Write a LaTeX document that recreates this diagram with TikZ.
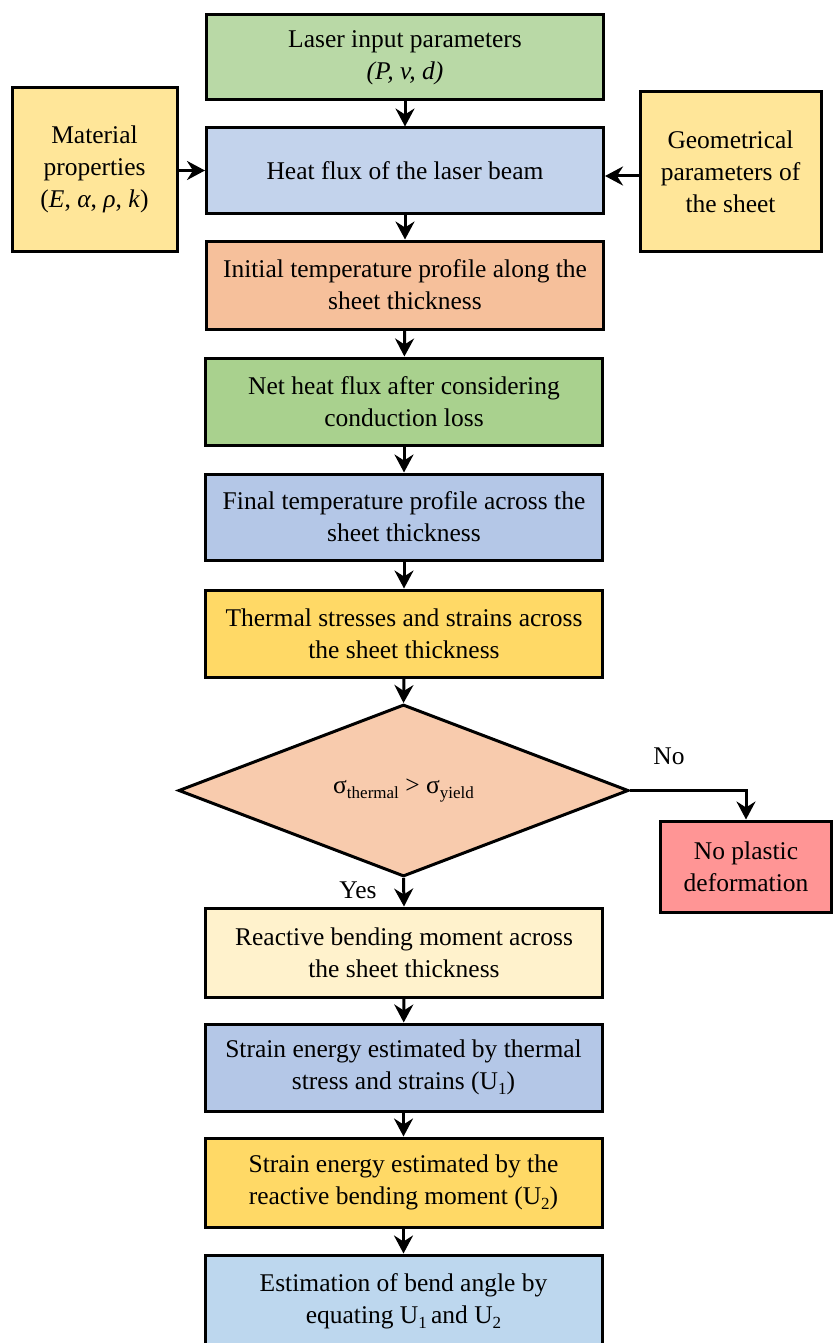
\documentclass[tikz,border=0pt]{standalone}
\usepackage{fontspec}
\setmainfont{Liberation Serif}
\usetikzlibrary{arrows.meta,shapes.geometric}
\definecolor{cgreenA}{HTML}{B9D9A6}
\definecolor{cblueA}{HTML}{C3D3EC}
\definecolor{cyel}{HTML}{FFE699}
\definecolor{corange}{HTML}{F6C09B}
\definecolor{cgreenB}{HTML}{A9D18E}
\definecolor{cblueB}{HTML}{B4C7E7}
\definecolor{cgold}{HTML}{FFD966}
\definecolor{cpeach}{HTML}{F8CBAD}
\definecolor{cred}{HTML}{FF9595}
\definecolor{ccream}{HTML}{FFF2CC}
\definecolor{cblueC}{HTML}{BDD7EE}
\tikzset{
  txt/.style={font=\fontsize{25.5}{32}\selectfont},
  box/.style={txt, draw=black, line width=3pt, rectangle, align=center,
    minimum width=397pt, inner sep=0pt},
  sidebox/.style={txt, draw=black, line width=3pt, rectangle, align=center, inner sep=0pt},
  dia/.style={txt, draw=black, line width=3pt, diamond, inner sep=0pt, aspect=2.6,
    minimum width=450pt, minimum height=172pt},
  arr/.style={line width=3pt, -{Stealth[length=18pt,width=19pt,inset=6pt]}},
  lbl/.style={txt}
}
\newcommand{\sbs}[1]{\raisebox{-0.45ex}{\fontsize{17}{17}\selectfont #1}}
\begin{document}
\begin{tikzpicture}[x=1pt,y=-1pt]
\useasboundingbox (0,0) rectangle (833,1343);
\node[box, fill=cgreenA, minimum height=85pt] (b1) at (405,57.5) {Laser input parameters\\\textit{(P, v, d)}};
\node[box, fill=cblueA, minimum height=85pt] (b2) at (405,170.5) {Heat flux of the laser beam};
\node[sidebox, fill=cyel, minimum width=165pt, minimum height=163pt] (mat) at (94.5,169.5) {Material\\properties\\(\textit{E}, \textit{α}, \textit{ρ}, \textit{k})};
\node[sidebox, fill=cyel, minimum width=181pt, minimum height=159pt] (geo) at (730.5,171.5) {Geometrical\\parameters of\\the sheet};
\node[box, fill=corange, minimum height=88pt] (b3) at (405,285) {Initial temperature profile along the\\sheet thickness};
\node[box, fill=cgreenB, minimum height=87pt] (b4) at (404,401.5) {Net heat flux after considering\\conduction loss};
\node[box, fill=cblueB, minimum height=86pt] (b5) at (404,517) {Final temperature profile across the\\sheet thickness};
\node[box, fill=cgold, minimum height=87pt] (b6) at (404,633.5) {Thermal stresses and strains across\\the sheet thickness};
\node[dia, fill=cpeach] (d) at (403.5,790.5) {σ\sbs{thermal} > σ\sbs{yield}};
\node[sidebox, fill=cred, minimum width=171pt, minimum height=91pt] (np) at (746,866.5) {No plastic\\deformation};
\node[box, fill=ccream, minimum height=89pt] (b7) at (404,952.5) {Reactive bending moment across\\the sheet thickness};
\node[box, fill=cblueB, minimum height=87pt] (b8) at (403.5,1067.5) {Strain energy estimated by thermal\\stress and strains (U\sbs{1})};
\node[box, fill=cgold, minimum height=89pt] (b9) at (403.5,1182.5) {Strain energy estimated by the\\reactive bending moment (U\sbs{2})};
\node[box, fill=cblueC, minimum height=92pt] (b10) at (403.5,1301) {Estimation of bend angle by\\equating U\sbs{1}\,and U\sbs{2}};
\draw[arr] (b1) -- (b2);
\draw[arr] (b2) -- (b3);
\draw[arr] (b3) -- (b4);
\draw[arr] (b4) -- (b5);
\draw[arr] (b5) -- (b6);
\draw[arr] (b6.south) -- (d.north);
\draw[arr] (d.south) -- (b7.north);
\draw[arr] (b7) -- (b8);
\draw[arr] (b8) -- (b9);
\draw[arr] (b9) -- (b10);
\draw[arr] (mat.east |- b2) -- (b2.west);
\draw[arr] (geo.west |- 0,176) -- (b2.east |- 0,176);
\draw[arr] (d.east) -| (np.north);
\node[lbl] (no) at (669,756) {No};
\node[lbl] (yes) at (358,890) {Yes};
\end{tikzpicture}
\end{document}
